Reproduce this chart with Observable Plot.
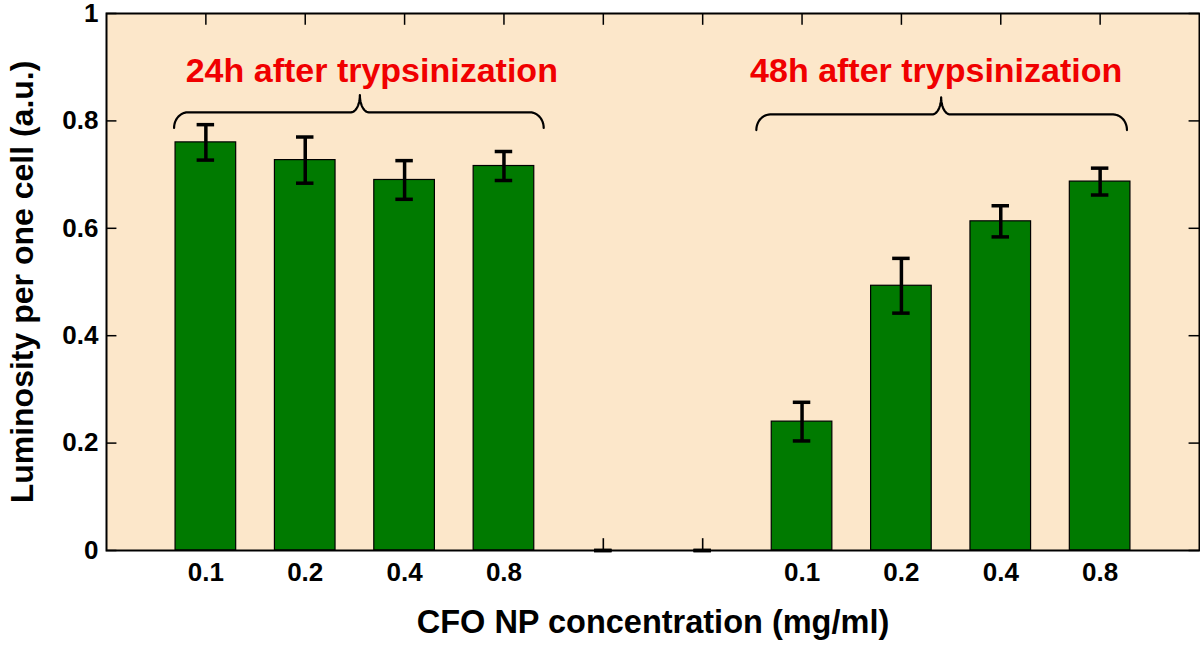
<!DOCTYPE html>
<html>
<head>
<meta charset="utf-8">
<script src="https://cdn.jsdelivr.net/npm/d3@7"></script>
<script src="https://cdn.jsdelivr.net/npm/@observablehq/plot@0.6"></script>
<style>
  html, body { margin: 0; padding: 0; background: #fff; }
  #chart svg { display: block; }
</style>
</head>
<body>
<div id="chart"></div>
<script>
// ---- data ----
const categories = ["0.1", "0.2", "0.4", "0.8", "", "", "0.1", "0.2", "0.4", "0.8"];
const luminosity = [0.760, 0.727, 0.690, 0.716, 0, 0, 0.240, 0.493, 0.613, 0.687];
const errors     = [0.033, 0.043, 0.036, 0.027, 0, 0, 0.036, 0.051, 0.029, 0.025];
const groupLabels = ["24h after trypsinization", "48h after trypsinization"];
const yTicks = [0, 0.2, 0.4, 0.6, 0.8, 1];
const yTickLabels = ["0", "0.2", "0.4", "0.6", "0.8", "1"];
const xLabel = "CFO NP concentration (mg/ml)";
const yLabel = "Luminosity per one cell (a.u.)";

// ---- table built from the arrays (slot index = position on x) ----
const table = categories.map((c, i) => ({
  pos: i + 1, cat: c, value: luminosity[i], err: errors[i]
}));
const barTable = table.filter(d => d.value > 0);
const tickPositions = table.filter(d => d.cat !== "").map(d => d.pos);
const slotPositions = table.map(d => d.pos);

// ---- annotation geometry (data units) ----
const annot = [
  {label: groupLabels[0], tx: 2.67, ty: 0.892, x1: 0.68, x2: 4.40, xc: 2.55, yH: 0.816, yEnd: 0.787, yTop: 0.848},
  {label: groupLabels[1], tx: 8.35, ty: 0.892, x1: 6.54, x2: 10.27, xc: 8.40, yH: 0.812, yEnd: 0.783, yTop: 0.844}
];
const rEnd = 0.14, rCusp = 0.09;
function arc(cx, cy, rx, ry, a0, a1, n) {
  const pts = [];
  for (let k = 0; k <= n; k++) {
    const a = a0 + (a1 - a0) * k / n;
    pts.push([cx + rx * Math.cos(a), cy + ry * Math.sin(a)]);
  }
  return pts;
}
function brace(b, id) {
  const P = Math.PI;
  const pts = [
    ...arc(b.x1 + rEnd, b.yEnd, rEnd, b.yH - b.yEnd, P, P / 2, 12),
    ...arc(b.xc - rCusp, b.yTop, rCusp, b.yTop - b.yH, -P / 2, 0, 12),
    ...arc(b.xc + rCusp, b.yTop, rCusp, b.yTop - b.yH, P, 3 * P / 2, 12),
    ...arc(b.x2 - rEnd, b.yEnd, rEnd, b.yH - b.yEnd, P / 2, 0, 12)
  ];
  return pts.map(([x, y]) => ({x, y, id}));
}
const braceData = annot.flatMap((b, i) => brace(b, i));

const halfBar = 0.305, halfCap = 0.088;
const tickLenX = 0.105, tickLenY = 0.022;

const chart = Plot.plot({
  width: 1200,
  height: 645,
  marginLeft: 106,
  marginRight: 1,
  marginTop: 13,
  marginBottom: 95,
  style: {fontFamily: "'Liberation Sans', Arial, Helvetica, sans-serif", background: "#fff", color: "#000"},
  x: {domain: [0, 11], axis: null},
  y: {domain: [0, 1], axis: null},
  marks: [
    Plot.frame({fill: "#FCE7CA", stroke: "none"}),
    // inward ticks
    Plot.ruleY(yTicks, {y: d => d, x1: 0, x2: tickLenX, stroke: "#000", strokeWidth: 1.5}),
    Plot.ruleY(yTicks, {y: d => d, x1: 11 - tickLenX, x2: 11, stroke: "#000", strokeWidth: 1.5}),
    Plot.ruleX(slotPositions, {x: d => d, y1: 0, y2: tickLenY, stroke: "#000", strokeWidth: 1.6}),
    Plot.ruleX(slotPositions, {x: d => d, y1: 1 - tickLenY, y2: 1, stroke: "#000", strokeWidth: 1.5}),
    // bars
    Plot.rectY(barTable, {x1: d => d.pos - halfBar, x2: d => d.pos + halfBar, y1: 0, y2: "value",
      fill: "#007A00", stroke: "#000", strokeWidth: 1.2}),
    // error bars
    Plot.ruleX(table, {x: "pos", y1: d => d.value - d.err, y2: d => d.value + d.err, stroke: "#000", strokeWidth: 3.5}),
    Plot.ruleY(table, {y: d => d.value + d.err, x1: d => d.pos - halfCap, x2: d => d.pos + halfCap, stroke: "#000", strokeWidth: 3.5}),
    Plot.ruleY(table, {y: d => d.value - d.err, x1: d => d.pos - halfCap, x2: d => d.pos + halfCap, stroke: "#000", strokeWidth: 3.5}),
    // braces and group labels
    Plot.line(braceData, {x: "x", y: "y", z: "id", stroke: "#000", strokeWidth: 2.2, curve: "linear"}),
    Plot.text(annot, {x: "tx", y: "ty", text: "label", fill: "#F00000", fontSize: 34, fontWeight: "bold", lineAnchor: "middle"}),
    Plot.frame({stroke: "#000", strokeWidth: 2}),
    // axes
    Plot.axisX({ticks: tickPositions, tickFormat: p => categories[p - 1], tickSize: 0, tickPadding: 12,
      fontSize: 26, fontWeight: "bold", label: null, anchor: "bottom"}),
    Plot.axisY({ticks: yTicks, tickFormat: d => yTickLabels[yTicks.indexOf(d)], tickSize: 0, tickPadding: 8,
      fontSize: 26, fontWeight: "bold", label: null, anchor: "left"}),
    Plot.text([xLabel], {text: d => d, frameAnchor: "bottom", textAnchor: "middle", dy: 72, fontSize: 32.5, fontWeight: "bold", lineAnchor: "middle"}),
    Plot.text([yLabel], {text: d => d, frameAnchor: "left", textAnchor: "middle", dx: -84, rotate: -90, fontSize: 32, fontWeight: "bold", lineAnchor: "middle"})
  ]
});
document.getElementById("chart").appendChild(chart);
</script>
</body>
</html>
